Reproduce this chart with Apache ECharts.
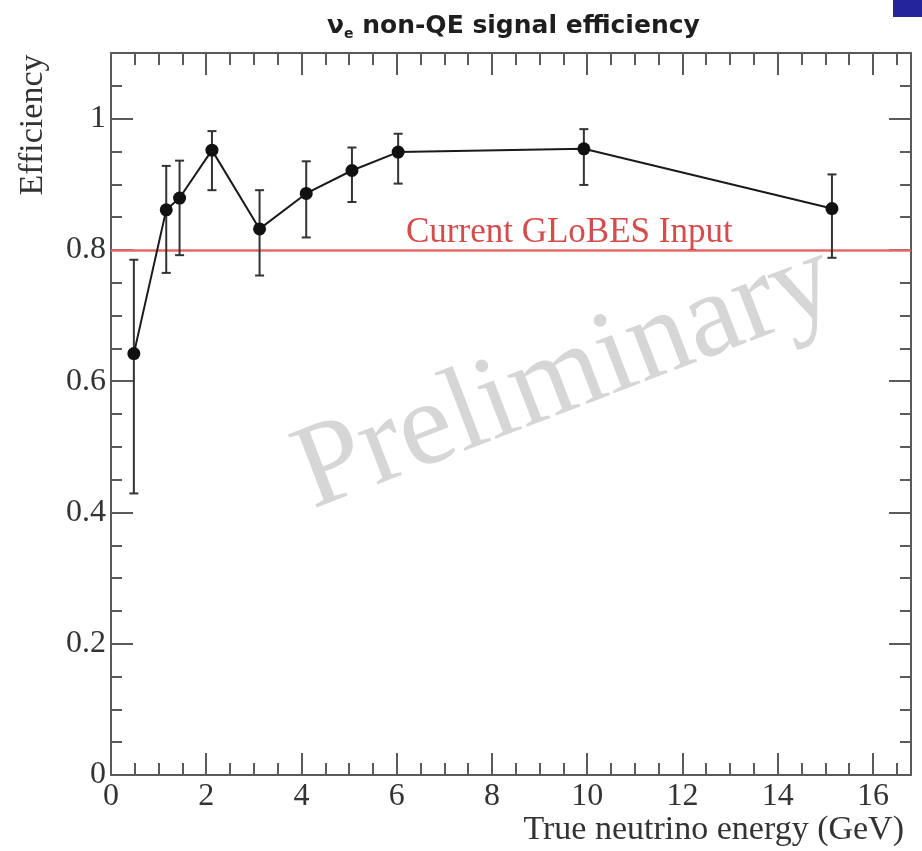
<!DOCTYPE html>
<html><head><meta charset="utf-8">
<script src="https://cdn.jsdelivr.net/npm/echarts@6/dist/echarts.min.js"></script>
<style>html,body{margin:0;padding:0;background:#fff}#c{width:922px;height:851px}</style>
</head><body><div id="c"></div>
<script>
// ---- data ----
const energy   = [0.48, 1.16, 1.44, 2.12, 3.12, 4.10, 5.06, 6.03, 9.93, 15.14];
const eff      = [0.642, 0.861, 0.879, 0.952, 0.832, 0.886, 0.921, 0.949, 0.954, 0.863];
const errHigh  = [0.785, 0.928, 0.936, 0.981, 0.891, 0.935, 0.956, 0.977, 0.984, 0.915];
const errLow   = [0.429, 0.765, 0.792, 0.891, 0.761, 0.819, 0.873, 0.901, 0.899, 0.788];
const globesInput = 0.8;
const xTickValues = [0, 2, 4, 6, 8, 10, 12, 14, 16];
const xTickLabels = ['0', '2', '4', '6', '8', '10', '12', '14', '16'];
const yTickValues = [0, 0.2, 0.4, 0.6, 0.8, 1];
const yTickLabels = ['0', '0.2', '0.4', '0.6', '0.8', '1'];
const xRange = [0, 16.8];
const yRange = [0, 1.1];

const SERIF = '"Liberation Serif", "DejaVu Serif", serif';
const FRAME = '#5a5a5a';
function lookup(vals, labs, v) {
  for (let i = 0; i < vals.length; i++) if (Math.abs(vals[i] - v) < 1e-6) return labs[i];
  return '';
}
function xAx(pos, interval, len, showLine, showLabel) {
  return {
    type: 'value', position: pos, min: xRange[0], max: xRange[1], interval: interval,
    axisLine: { show: showLine, onZero: false, lineStyle: { color: FRAME, width: 2 } },
    axisTick: { show: true, inside: true, length: len, lineStyle: { color: FRAME, width: 2 } },
    axisLabel: { show: showLabel, margin: 6, fontFamily: SERIF, fontSize: 32, color: '#333',
      showMaxLabel: false, hideOverlap: false,
      formatter: v => lookup(xTickValues, xTickLabels, v) },
    splitLine: { show: false }
  };
}
function yAx(pos, interval, len, showLine, showLabel) {
  return {
    type: 'value', position: pos, min: yRange[0], max: yRange[1], interval: interval,
    axisLine: { show: showLine, onZero: false, lineStyle: { color: FRAME, width: 2 } },
    axisTick: { show: true, inside: true, length: len, lineStyle: { color: FRAME, width: 2 } },
    axisLabel: { show: showLabel, margin: 5, fontFamily: SERIF, fontSize: 32, color: '#333',
      showMaxLabel: false, hideOverlap: false,
      formatter: v => lookup(yTickValues, yTickLabels, v) },
    splitLine: { show: false }
  };
}

const chart = echarts.init(document.getElementById('c'), null, { renderer: 'canvas' });
chart.setOption({
  animation: false,
  backgroundColor: '#ffffff',
  grid: { left: 111, right: 11, top: 53, bottom: 76, containLabel: false, outerBoundsMode: 'none' },
  title: {
    text: '{a|ν}{s|e}{a| non-QE signal efficiency}',
    left: 322, top: 6,
    textStyle: {
      rich: {
        a: { fontFamily: '"DejaVu Sans", sans-serif', fontWeight: 'bold', fontSize: 25, color: '#1e1e1e', lineHeight: 30 },
        s: { fontFamily: '"DejaVu Sans", sans-serif', fontWeight: 'bold', fontSize: 14, color: '#1e1e1e', lineHeight: 14, verticalAlign: 'bottom' }
      }
    }
  },
  xAxis: [
    xAx('bottom', 2, 22, true, true),
    xAx('bottom', 0.5, 12, false, false),
    xAx('top', 2, 22, true, false),
    xAx('top', 0.5, 12, false, false)
  ],
  yAxis: [
    yAx('left', 0.2, 22, true, true),
    yAx('left', 0.05, 11, false, false),
    yAx('right', 0.2, 22, true, false),
    yAx('right', 0.05, 11, false, false)
  ],
  graphic: [
    { type: 'text', z: 0, silent: true, rotation: 21 * Math.PI / 180, x: 566, y: 378,
      style: { text: 'Preliminary', font: '120px ' + SERIF, fill: '#d6d6d6', align: 'center', verticalAlign: 'middle' } },
    { type: 'text', z: 10, silent: true, x: 406, y: 233,
      style: { text: 'Current GLoBES Input', font: '35px ' + SERIF, fill: '#d44c4c', align: 'left', verticalAlign: 'middle' } },
    { type: 'text', z: 10, silent: true, x: 33, y: 125, rotation: Math.PI / 2,
      style: { text: 'Efficiency', font: '34px ' + SERIF, fill: '#333', align: 'center', verticalAlign: 'middle' } },
    { type: 'text', z: 10, silent: true, x: 904, y: 830,
      style: { text: 'True neutrino energy (GeV)', font: '34px ' + SERIF, fill: '#333', align: 'right', verticalAlign: 'middle' } },
    { type: 'rect', z: 10, silent: true, shape: { x: 893, y: 0, width: 29, height: 17 }, style: { fill: '#24249c' } }
  ],
  series: [
    {
      type: 'custom', xAxisIndex: 0, yAxisIndex: 0, z: 4, silent: true,
      data: energy.map((x, i) => [x, errLow[i], errHigh[i]]),
      encode: { x: 0, y: [1, 2] },
      renderItem: function (params, api) {
        const x = api.value(0), lo = api.value(1), hi = api.value(2);
        const pLo = api.coord([x, lo]), pHi = api.coord([x, hi]);
        const cap = 4.5, st = { stroke: '#333', lineWidth: 2 };
        return { type: 'group', children: [
          { type: 'line', shape: { x1: pLo[0], y1: pLo[1], x2: pHi[0], y2: pHi[1] }, style: st },
          { type: 'line', shape: { x1: pLo[0] - cap, y1: pLo[1], x2: pLo[0] + cap, y2: pLo[1] }, style: st },
          { type: 'line', shape: { x1: pHi[0] - cap, y1: pHi[1], x2: pHi[0] + cap, y2: pHi[1] }, style: st }
        ] };
      }
    },
    {
      type: 'line', xAxisIndex: 0, yAxisIndex: 0, z: 5,
      data: energy.map((x, i) => [x, eff[i]]),
      symbol: 'circle', symbolSize: 13, showSymbol: true,
      lineStyle: { color: '#1a1a1a', width: 2 },
      itemStyle: { color: '#111' },
      markLine: {
        silent: true, symbol: ['none', 'none'], z: 3,
        label: { show: false },
        lineStyle: { color: '#e46a6a', width: 2.5, type: 'solid' },
        data: [{ yAxis: globesInput }]
      }
    }
  ]
});
</script></body></html>
